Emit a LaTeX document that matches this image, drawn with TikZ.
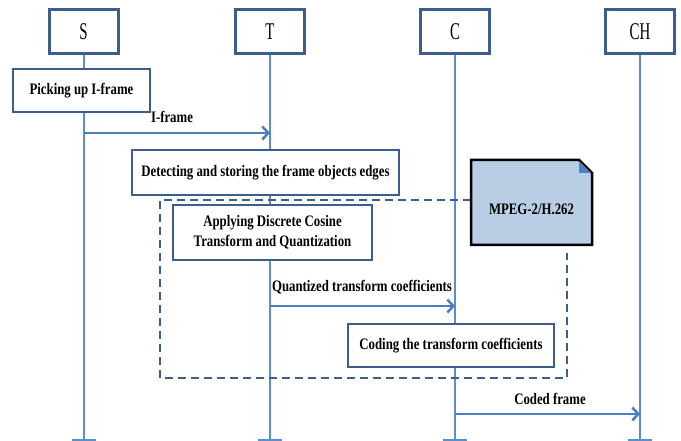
\documentclass[tikz,border=0pt]{standalone}
\usepackage{fontspec}
\setmainfont{Liberation Serif}
\newfontfamily\lblfont[FakeStretch=0.8]{Liberation Serif}
\newfontfamily\capfont[FakeStretch=0.62]{Liberation Serif}
\usetikzlibrary{arrows.meta}
\definecolor{boxc}{HTML}{3B5E8C}
\definecolor{lifec}{HTML}{5B8ECF}
\definecolor{msgc}{HTML}{4A7EBF}
\definecolor{notefill}{HTML}{B9CDE5}
\definecolor{foldc}{HTML}{4F81BD}
\tikzset{
  actor/.style={draw=boxc, line width=3pt, fill=white, minimum width=69pt, minimum height=44pt, inner sep=0pt, font=\capfont\fontsize{24}{24}\selectfont},
  stepbox/.style={draw=boxc, line width=2.5pt, fill=white, inner sep=0pt, align=center, font=\lblfont\bfseries\fontsize{16}{20}\selectfont},
  lifeline/.style={draw=lifec, line width=2pt},
  tick/.style={draw=lifec, line width=2pt},
  msg/.style={draw=msgc, line width=2.5pt, -{Straight Barb[length=6pt,width=13pt,line width=2.5pt]}},
  msglabel/.style={font=\lblfont\bfseries\fontsize{16}{20}\selectfont, inner sep=0pt},
  group/.style={draw=boxc, line width=2.5pt, dash pattern=on 8pt off 5pt},
}
\begin{document}
\begin{tikzpicture}[x=1pt,y=-1pt]
\useasboundingbox (0,0) rectangle (681,441);
% lifeline ends
\coordinate (Sb) at (84,440);
\coordinate (Tb) at (270,440);
\coordinate (Cb) at (455,440);
\coordinate (CHb) at (640,440);
\coordinate (Stop) at (84,54);
\coordinate (Ttop) at (270,54);
\coordinate (Ctop) at (455,54);
\coordinate (CHtop) at (640,54);
\draw[lifeline] (Stop) -- (Sb);
\draw[lifeline] (Ttop) -- (Tb);
\draw[lifeline] (Ctop) -- (Cb);
\draw[lifeline] (CHtop) -- (CHb);
\foreach \c in {Sb,Tb,Cb,CHb} {\draw[tick] ([xshift=-12pt]\c) -- ([xshift=12pt]\c);}
% group frame
\coordinate (g1) at (471,200);
\coordinate (g2) at (160,200);
\coordinate (g3) at (160,378);
\coordinate (g4) at (567,378);
\coordinate (g5) at (567,253);
\draw[group] (g1) -- (g2) -- (g3) -- (g4) -- (g5);
% actors
\node[actor] (S) at (83.5,32) {S};
\node[actor] (T) at (270,32) {T};
\node[actor] (C) at (455,32) {C};
\node[actor] (CH) at (640,32) {CH};
% steps
\node[stepbox, minimum width=137pt, minimum height=43pt] (pick) at (81.5,90.5) {Picking up I-frame};
\node[stepbox, minimum width=267pt, minimum height=45pt] (detect) at (265.5,172.5) {Detecting and storing the frame objects edges};
\node[stepbox, minimum width=199pt, minimum height=55pt] (dct) at (272.5,232.5) {Applying Discrete Cosine\\Transform and Quantization};
\node[stepbox, minimum width=206pt, minimum height=43pt] (code) at (451,345.5) {Coding the transform coefficients};
% note
\coordinate (n1) at (471,160);
\coordinate (n2) at (579,160);
\coordinate (n3) at (592,173);
\coordinate (n4) at (592,245);
\coordinate (n5) at (471,245);
\draw[line width=2.5pt, fill=notefill, line join=miter] (n1) -- (n2) -- (n3) -- (n4) -- (n5) -- cycle;
\fill[foldc] (n2) -- (n3) -- (579,173) -- cycle;
\draw[line width=1pt, black] (n2) -- (n3);
\node[msglabel] (note) at (531.5,209) {MPEG-2/H.262};
% messages
\coordinate (m1a) at (84,133);
\coordinate (m1b) at (270,133);
\draw[msg] (m1a) -- (m1b);
\node[msglabel] (l1) at (172,117) {I-frame};
\coordinate (m2a) at (270,306);
\coordinate (m2b) at (455,306);
\draw[msg] (m2a) -- (m2b);
\node[msglabel] (l2) at (362,287) {Quantized transform coefficients};
\coordinate (m3a) at (455,414);
\coordinate (m3b) at (640,414);
\draw[msg] (m3a) -- (m3b);
\node[msglabel] (l3) at (550,399) {Coded frame};
\end{tikzpicture}
\end{document}
